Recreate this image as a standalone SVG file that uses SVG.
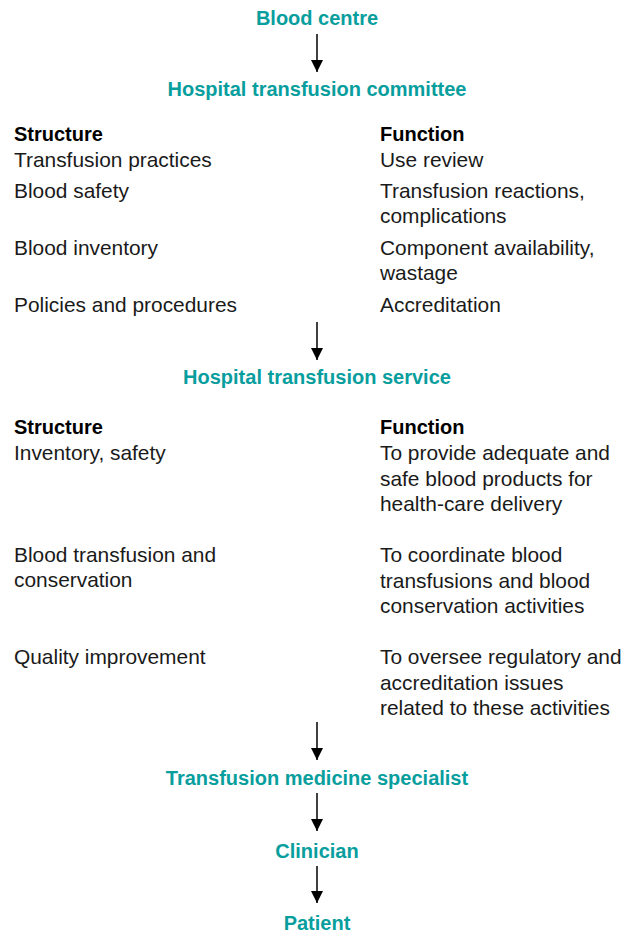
<svg xmlns="http://www.w3.org/2000/svg" width="627" height="935" viewBox="0 0 627 935">
<style>
.t{font-family:"Liberation Sans",Arial,sans-serif;font-weight:bold;font-size:20px;fill:#089e9e;text-anchor:middle}
.h{font-family:"Liberation Sans",Arial,sans-serif;font-weight:bold;font-size:20px;fill:#000}
.b{font-family:"Liberation Sans",Arial,sans-serif;font-size:20.9px;fill:#1a1a1a}
.c{stroke:#000;stroke-width:1.5;fill:none}
</style>
<defs>
<marker id="ah" markerWidth="12" markerHeight="12" viewBox="0 0 12 12" refX="12" refY="6" orient="auto" markerUnits="userSpaceOnUse">
<path d="M0,0 L12,6 L0,12 Z" fill="#000"/>
</marker>
</defs>
<rect width="627" height="935" fill="#fff"/>
<g id="connectors">
<line class="c" x1="317" y1="34" x2="317" y2="72" marker-end="url(#ah)"/>
<line class="c" x1="317" y1="322" x2="317" y2="360" marker-end="url(#ah)"/>
<line class="c" x1="317" y1="722" x2="317" y2="760" marker-end="url(#ah)"/>
<line class="c" x1="317" y1="793" x2="317" y2="831" marker-end="url(#ah)"/>
<line class="c" x1="317" y1="866" x2="317" y2="903" marker-end="url(#ah)"/>
</g>
<g id="blood-centre"><text class="t" x="317" y="25">Blood centre</text></g>
<g id="hospital-transfusion-committee">
<text class="t" x="317" y="96">Hospital transfusion committee</text>
<text class="h" x="14" y="141">Structure</text>
<text class="b" x="14" y="167">Transfusion practices</text>
<text class="b" x="14" y="198">Blood safety</text>
<text class="b" x="14" y="255">Blood inventory</text>
<text class="b" x="14" y="312">Policies and procedures</text>
<text class="h" x="380" y="141">Function</text>
<text class="b" x="380" y="167">Use review</text>
<text class="b" x="380" y="198">Transfusion reactions,</text>
<text class="b" x="380" y="223">complications</text>
<text class="b" x="380" y="255">Component availability,</text>
<text class="b" x="380" y="280">wastage</text>
<text class="b" x="380" y="312">Accreditation</text>
</g>
<g id="hospital-transfusion-service">
<text class="t" x="317" y="384">Hospital transfusion service</text>
<text class="h" x="14" y="434">Structure</text>
<text class="b" x="14" y="460">Inventory, safety</text>
<text class="b" x="14" y="562">Blood transfusion and</text>
<text class="b" x="14" y="587">conservation</text>
<text class="b" x="14" y="664">Quality improvement</text>
<text class="h" x="380" y="434">Function</text>
<text class="b" x="380" y="460">To provide adequate and</text>
<text class="b" x="380" y="486">safe blood products for</text>
<text class="b" x="380" y="511">health-care delivery</text>
<text class="b" x="380" y="562">To coordinate blood</text>
<text class="b" x="380" y="588">transfusions and blood</text>
<text class="b" x="380" y="613">conservation activities</text>
<text class="b" x="380" y="664">To oversee regulatory and</text>
<text class="b" x="380" y="690">accreditation issues</text>
<text class="b" x="380" y="715">related to these activities</text>
</g>
<g id="transfusion-medicine-specialist"><text class="t" x="317" y="785">Transfusion medicine specialist</text></g>
<g id="clinician"><text class="t" x="317" y="858">Clinician</text></g>
<g id="patient"><text class="t" x="317" y="930">Patient</text></g>
</svg>
